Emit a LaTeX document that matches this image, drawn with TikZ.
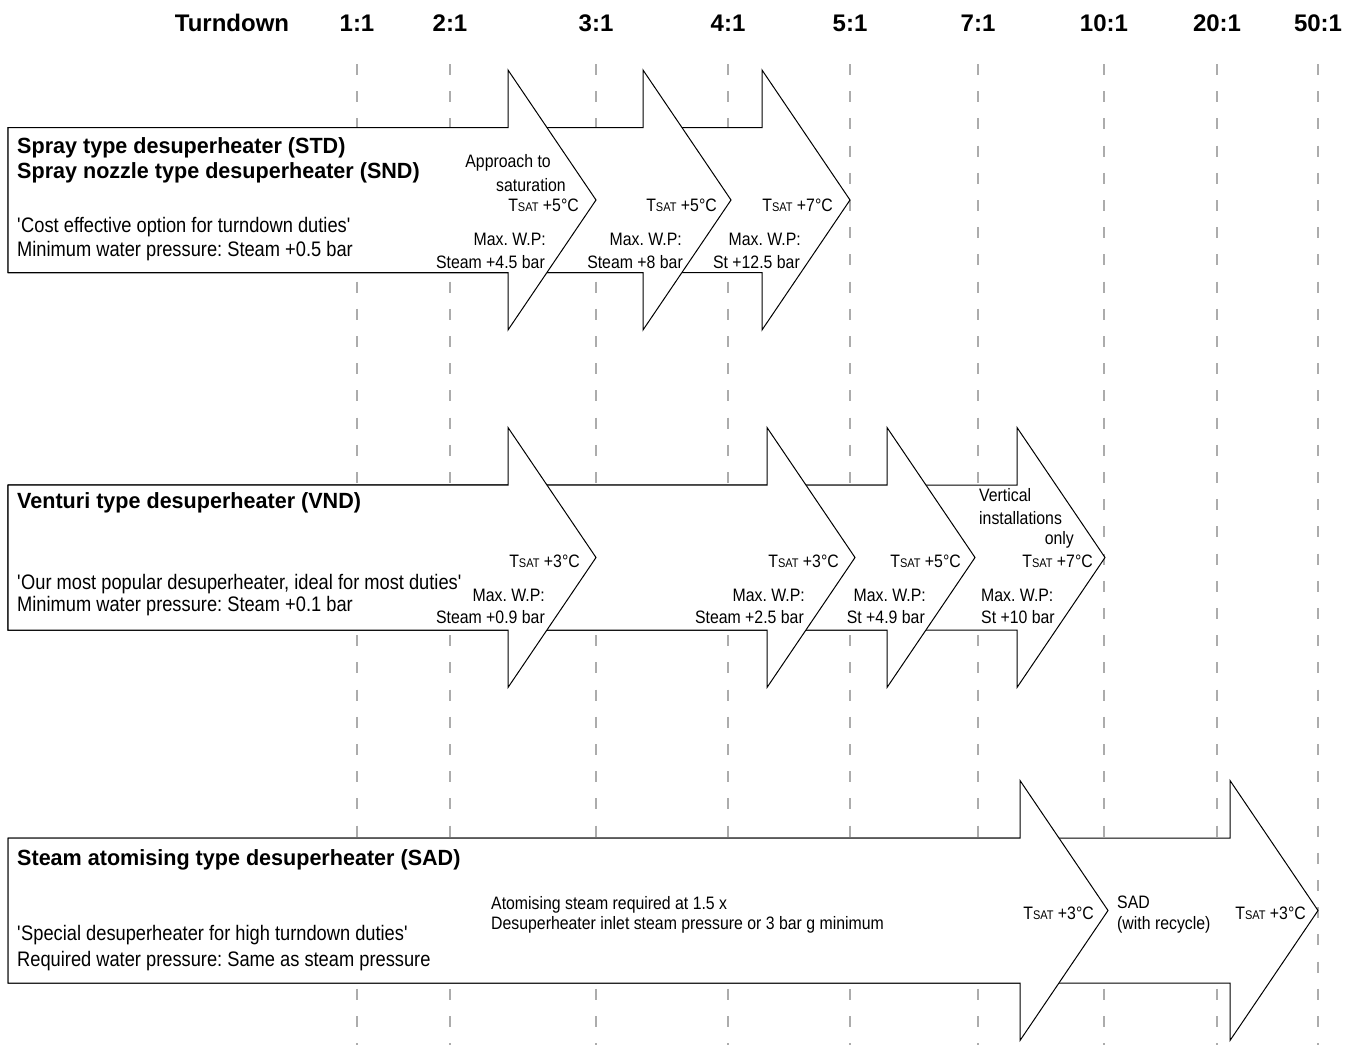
\documentclass[tikz,border=0pt]{standalone}
\usepackage{fontspec}
\setmainfont{Liberation Sans}
\newfontfamily\bodyfont{Liberation Sans}[FakeStretch=0.87]
\newfontfamily\lblfont{Liberation Sans}[FakeStretch=0.88]
\newfontfamily\ttlfont{Liberation Sans}[FakeStretch=0.98]
\definecolor{gridgray}{RGB}{172,172,172}
\newcommand\tsat{T{\fontsize{12.5}{14}\selectfont SAT}}
\newcommand\chev[2]{%
  \filldraw[arrowbox] (8,#1-72.5) -- (#2-88,#1-72.5) -- (#2-88,#1-130) -- (#2,#1)
    -- (#2-88,#1+130) -- (#2-88,#1+72.5) -- (8,#1+72.5) -- cycle;}
\tikzset{
  gridline/.style={draw=gridgray, line width=2pt, dash pattern=on 11pt off 16.2pt},
  arrowbox/.style={draw=black, fill=white, line width=1pt, line join=miter},
  hdr/.style={font=\fontsize{24}{28}\selectfont\bfseries, inner sep=0pt, anchor=base},
  ttl/.style={font=\ttlfont\fontsize{22}{26}\selectfont\bfseries, inner sep=0pt, anchor=base west},
  body/.style={font=\bodyfont\fontsize{21}{24}\selectfont, inner sep=0pt, anchor=base west},
  lblr/.style={font=\lblfont\fontsize{18}{21}\selectfont, inner sep=0pt, anchor=base east},
  lbll/.style={font=\lblfont\fontsize{18}{21}\selectfont, inner sep=0pt, anchor=base west}
}
\frenchspacing
\begin{document}
\frenchspacing
\begin{tikzpicture}[x=1pt,y=-1pt]
\useasboundingbox[fill=white] (0,0) rectangle (1359,1045);
% header
\node[hdr] (turn) at (232,31) {Turndown};
\foreach \x/\t/\n in {357/1:1/a,450/2:1/b,596/3:1/c,728/4:1/d,850/5:1/e,978/7:1/f,1104/10:1/g,1217/20:1/h,1318/50:1/i}{
  \node[hdr] (h\n) at (\x,31) {\t};
  \draw[gridline] (\x,64) -- (\x,1045);
}
% STD row (centre 200)
\chev{200}{850}
\chev{200}{731}
\chev{200}{596}
% VND row (centre 557.5)
\chev{557.5}{1105}
\chev{557.5}{975}
\chev{557.5}{855}
\chev{557.5}{596}
% SAD row (centre 910.5)
\chev{910.5}{1318}
\chev{910.5}{1108}

% STD texts
\node[ttl] (std1) at (17,153) {Spray type desuperheater (STD)};
\node[ttl] (std2) at (17,178.5) {Spray nozzle type desuperheater (SND)};
\node[body] (std3) at (17,232.5) {\textquotesingle Cost effective option for turndown duties\textquotesingle};
\node[body] (std4) at (17,256.5) {Minimum water pressure: Steam +0.5 bar};
\node[lblr] (s1a) at (551,167.5) {Approach to};
\node[lblr] (s1b) at (566,191) {saturation};
\node[lblr] (s1c) at (579,211.5) {\tsat{} +5°C};
\node[lblr] (s1d) at (546,245.5) {Max. W.P:};
\node[lblr] (s1e) at (545,268) {Steam +4.5 bar};
\node[lblr] (s2c) at (717,211.5) {\tsat{} +5°C};
\node[lblr] (s2d) at (682,245.5) {Max. W.P:};
\node[lblr] (s2e) at (683,268) {Steam +8 bar};
\node[lblr] (s3c) at (833,211.5) {\tsat{} +7°C};
\node[lblr] (s3d) at (801,245.5) {Max. W.P:};
\node[lblr] (s3e) at (800,268) {St +12.5 bar};

% VND texts
\node[ttl] (vnd1) at (17,508.5) {Venturi type desuperheater (VND)};
\node[body] (vnd2) at (17,589.5) {\textquotesingle Our most popular desuperheater, ideal for most duties\textquotesingle};
\node[body] (vnd3) at (17,611.5) {Minimum water pressure: Steam +0.1 bar};
\node[lblr] (v1c) at (580,567) {\tsat{} +3°C};
\node[lblr] (v1d) at (545,601) {Max. W.P:};
\node[lblr] (v1e) at (545,623) {Steam +0.9 bar};
\node[lblr] (v2c) at (839,567) {\tsat{} +3°C};
\node[lblr] (v2d) at (805,601) {Max. W.P:};
\node[lblr] (v2e) at (804,623) {Steam +2.5 bar};
\node[lblr] (v3c) at (961,567) {\tsat{} +5°C};
\node[lblr] (v3d) at (926,601) {Max. W.P:};
\node[lblr] (v3e) at (925,623) {St +4.9 bar};
\node[lbll] (v4a) at (979,501.5) {Vertical};
\node[lbll] (v4b) at (979,524.5) {installations};
\node[lblr] (v4o) at (1074,544) {only};
\node[lblr] (v4c) at (1093,567) {\tsat{} +7°C};
\node[lbll] (v4d) at (981,601) {Max. W.P:};
\node[lbll] (v4e) at (981,623) {St +10 bar};

% SAD texts
\node[ttl] (sad1) at (17,865.5) {Steam atomising type desuperheater (SAD)};
\node[body] (sad2) at (17,940.5) {\textquotesingle Special desuperheater for high turndown duties\textquotesingle};
\node[body] (sad3) at (17,966.5) {Required water pressure: Same as steam pressure};
\node[lbll] (sad4) at (491,909) {Atomising steam required at 1.5 x};
\node[lbll] (sad5) at (491,929.5) {Desuperheater inlet steam pressure or 3 bar g minimum};
\node[lblr] (a1c) at (1094,919) {\tsat{} +3°C};
\node[lbll] (a2a) at (1117,908.5) {SAD};
\node[lbll] (a2b) at (1117,929.5) {(with recycle)};
\node[lblr] (a2c) at (1306,919) {\tsat{} +3°C};
\end{tikzpicture}
\end{document}
